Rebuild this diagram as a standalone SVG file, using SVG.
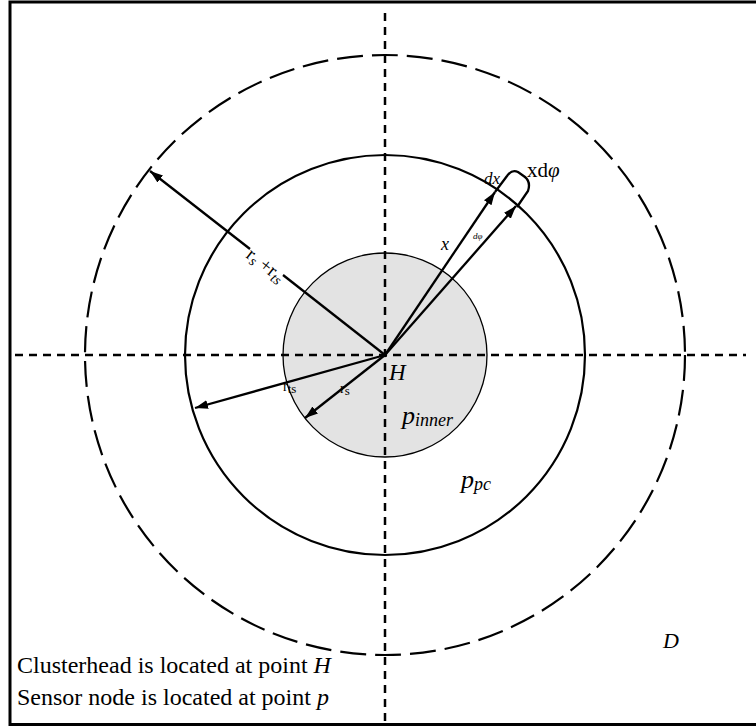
<svg xmlns="http://www.w3.org/2000/svg" width="756" height="727" viewBox="0 0 756 727">
<style>
text{font-family:"Liberation Serif","Times New Roman",serif;fill:#000}
.it{font-style:italic}
.axis{stroke:#000;stroke-width:2.5;stroke-dasharray:8 6;fill:none}
.arr{stroke:#000;stroke-width:2.3;fill:none}
</style>
<defs>
<marker id="ah" markerUnits="userSpaceOnUse" markerWidth="14" markerHeight="10" refX="13" refY="4.5" orient="auto">
<path d="M0,0 L13,4.5 L0,9 z" fill="#000"/>
</marker>
</defs>
<rect x="0" y="0" width="756" height="727" fill="#fff"/>
<rect id="frame" x="10" y="2" width="770" height="722.5" fill="none" stroke="#000" stroke-width="3"/>
<g id="outer-circle"><circle cx="385" cy="355" r="300" fill="none" stroke="#000" stroke-width="2.2" stroke-dasharray="26 9"/></g>
<g id="pc-circle"><circle cx="385" cy="355" r="200" fill="none" stroke="#000" stroke-width="2.2"/></g>
<g id="inner-circle"><circle cx="385" cy="355" r="102" fill="#e3e3e3" stroke="#000" stroke-width="1.3"/></g>
<g id="axes">
<line class="axis" x1="385" y1="13" x2="385" y2="727"/>
<line class="axis" x1="15" y1="355" x2="746" y2="355"/>
</g>
<g id="connectors">
<line class="arr" x1="385" y1="355" x2="283" y2="275"/>
<line class="arr" x1="250" y1="249" x2="150" y2="171" marker-end="url(#ah)"/>
<line class="arr" x1="385" y1="355" x2="195" y2="408" marker-end="url(#ah)"/>
<line class="arr" x1="385" y1="355" x2="305" y2="418" marker-end="url(#ah)"/>
<line class="arr" x1="385" y1="355" x2="495" y2="192" marker-end="url(#ah)"/>
<line class="arr" x1="385" y1="355" x2="516" y2="206" marker-end="url(#ah)"/>
<path class="arr" d="M495,192 L507,176 Q512,169 518,172 L525,177 Q531,182 528,191 L517,207"/>
<circle cx="385" cy="355" r="2.2" fill="#000"/>
</g>
<g id="labels">
<text transform="translate(265,266) rotate(38)" text-anchor="middle" y="5" font-size="19">r<tspan class="it" font-size="14" dy="3">s</tspan><tspan dy="-3"> +r</tspan><tspan class="it" font-size="14" dy="3">ts</tspan></text>
<text x="283" y="391" font-size="14">r<tspan font-size="13" dy="2">ts</tspan></text>
<text x="340" y="393" font-size="14">r<tspan font-size="13" dy="2">s</tspan></text>
<text class="it" x="441" y="250" font-size="18">x</text>
<text class="it" x="473" y="239" font-size="9">dφ</text>
<text class="it" x="484" y="184" font-size="17">dx</text>
<text x="527" y="177" font-size="21">xd<tspan class="it">φ</tspan></text>
<text class="it" x="389" y="380" font-size="23">H</text>
<text class="it" x="402" y="424" font-size="26">p<tspan font-size="18" dy="2">inner</tspan></text>
<text class="it" x="461" y="488" font-size="26">p<tspan font-size="18" dy="2">pc</tspan></text>
<text class="it" x="663" y="648" font-size="22">D</text>
<text x="17" y="673" font-size="24">Clusterhead is located at point <tspan class="it">H</tspan></text>
<text x="17" y="705" font-size="24">Sensor node is located at point <tspan class="it">p</tspan></text>
</g>
</svg>
